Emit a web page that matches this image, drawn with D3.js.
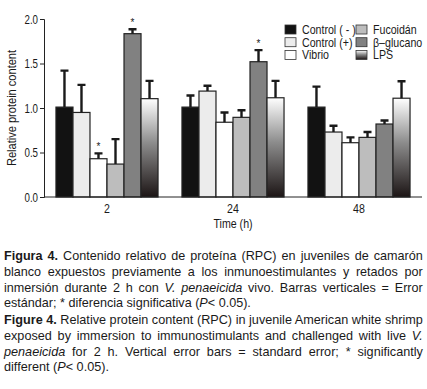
<!DOCTYPE html>
<html>
<head>
<meta charset="utf-8">
<script src="https://cdn.jsdelivr.net/npm/d3@7"></script>
<style>
  body { margin: 0; background: #fff; }
  svg { display: block; }
  text { font-family: "Liberation Sans", Arial, sans-serif; fill: #1a1a1a; }
</style>
</head>
<body>
<div class="canvas"></div>
<script>
// 데이터
const times = ["2", "24", "48"];
const treatments = ["Control (-)", "Control (+)", "Vibrio", "Fucoidán", "β–glucano", "LPS"];

const controlNeg = [1.01, 1.01, 1.01];
const controlPos = [0.95, 1.19, 0.73];
const vibrio     = [0.43, 0.84, 0.61];
const fucoidan   = [0.37, 0.895, 0.67];
const glucan     = [1.835, 1.52, 0.82];
const lps        = [1.105, 1.115, 1.11];

const controlNegErr = [0.41, 0.13, 0.23];
const controlPosErr = [0.31, 0.06, 0.07];
const vibrioErr     = [0.06, 0.11, 0.06];
const fucoidanErr   = [0.28, 0.08, 0.06];
const glucanErr     = [0.05, 0.13, 0.04];
const lpsErr        = [0.2, 0.19, 0.19];

// significant differences: [time, treatment]
const significant = [["2", "Vibrio"], ["2", "β–glucano"], ["24", "β–glucano"]];

const yTicks = [0, 0.5, 1.0, 1.5, 2.0];

const captionEs = [
  [["b", "Figura 4."], ["n", " Contenido relativo de proteína (RPC) en juveniles de camarón"]],
  [["n", "blanco expuestos previamente a los inmunoestimulantes y retados por"]],
  [["n", "inmersión durante 2 h con "], ["i", "V. penaeicida"], ["n", " vivo. Barras verticales = Error"]],
  [["n", "estándar; * diferencia significativa ("], ["i", "P"], ["n", "< 0.05)."]]
];
const captionEn = [
  [["b", "Figure 4."], ["n", " Relative protein content (RPC) in juvenile American white shrimp"]],
  [["n", "exposed by immersion to immunostimulants and challenged with live "], ["i", "V."]],
  [["i", "penaeicida"], ["n", " for 2 h. Vertical error bars = standard error; * significantly"]],
  [["n", "different ("], ["i", "P"], ["n", "< 0.05)."]]
];

const means = [controlNeg, controlPos, vibrio, fucoidan, glucan, lps];
const errs = [controlNegErr, controlPosErr, vibrioErr, fucoidanErr, glucanErr, lpsErr];

const rows = [];
times.forEach((t, ti) => {
  treatments.forEach((tr, k) => {
    rows.push({ time: t, treatment: tr, value: means[k][ti], err: errs[k][ti] });
  });
});

const svgWidth = 427, svgHeight = 389;
const svg = d3.select(".canvas").append("svg")
  .attr("width", svgWidth)
  .attr("height", svgHeight);

// LPS 그라데이션
const defs = svg.append("defs");
const grad = defs.append("linearGradient")
  .attr("id", "lpsGrad")
  .attr("x1", 0).attr("y1", 0).attr("x2", 0).attr("y2", 1);
grad.append("stop").attr("offset", "0%").attr("stop-color", "#ffffff");
grad.append("stop").attr("offset", "45%").attr("stop-color", "#8c8c8c");
grad.append("stop").attr("offset", "100%").attr("stop-color", "#1c1515");

const fills = {
  "Control (-)": "#121212",
  "Control (+)": "#ececec",
  "Vibrio": "#ffffff",
  "Fucoidán": "#bdbdbd",
  "β–glucano": "#818181",
  "LPS": "url(#lpsGrad)"
};

const x0 = d3.scaleBand()
  .domain(times)
  .range([44, 422])
  .paddingInner(0.19)
  .paddingOuter(0.095);

const x1 = d3.scaleBand()
  .domain(treatments)
  .range([0, x0.bandwidth()]);

const y = d3.scaleLinear()
  .domain([0, 2])
  .range([197, 19]);

// 막대
const groups = svg.selectAll(".grp")
  .data(times)
  .join("g")
  .attr("class", "grp")
  .attr("transform", d => `translate(${x0(d)},0)`);

groups.selectAll("rect")
  .data(t => rows.filter(r => r.time === t))
  .join("rect")
  .attr("x", d => x1(d.treatment))
  .attr("y", d => y(d.value))
  .attr("width", x1.bandwidth())
  .attr("height", d => y(0) - y(d.value))
  .attr("fill", d => fills[d.treatment])
  .attr("stroke", "#222")
  .attr("stroke-width", 1.2);

// 오차 막대 (위쪽만)
groups.selectAll(".err")
  .data(t => rows.filter(r => r.time === t))
  .join("path")
  .attr("class", "err")
  .attr("fill", "none")
  .attr("stroke", "#1a1a1a")
  .attr("stroke-width", 2.4)
  .attr("d", d => {
    const cx = x1(d.treatment) + x1.bandwidth() / 2;
    const y0 = y(d.value), yt = y(d.value + d.err);
    return `M${cx},${y0}V${yt}M${cx - 4},${yt}H${cx + 4}`;
  });

// 별표
groups.selectAll(".star")
  .data(t => rows.filter(r => r.time === t && significant.some(s => s[0] === t && s[1] === r.treatment)))
  .join("text")
  .attr("class", "star")
  .attr("x", d => x1(d.treatment) + x1.bandwidth() / 2)
  .attr("y", d => y(d.value + d.err) - 3)
  .attr("text-anchor", "middle")
  .attr("font-size", 10)
  .text("*");

// 축
const yAxis = d3.axisLeft(y).tickValues(yTicks).tickFormat(d3.format(".1f")).tickSizeOuter(0).tickSize(4);
const gy = svg.append("g").attr("transform", "translate(44,0)").call(yAxis);
gy.select(".domain").attr("stroke", "#222");
gy.selectAll(".tick line").attr("stroke", "#222");
gy.selectAll(".tick text")
  .attr("font-size", 12.5)
  .attr("fill", "#1a1a1a")
  .style("font-family", "'Liberation Sans', Arial, sans-serif")
  .attr("transform", "scale(0.78,1)")
  .attr("x", -6 / 0.78);

const xAxis = d3.axisBottom(x0).tickSize(0).tickSizeOuter(0).tickPadding(7);
const gx = svg.append("g").attr("transform", "translate(0,197)").call(xAxis);
gx.select(".domain").attr("stroke", "#222").attr("d", "M44,0H422");
gx.selectAll(".tick text")
  .attr("font-size", 12.5)
  .attr("fill", "#1a1a1a")
  .style("font-family", "'Liberation Sans', Arial, sans-serif");
gx.selectAll(".tick").each(function (d) {
  const px = x0(d) + x0.bandwidth() / 2;
  d3.select(this).attr("transform", `translate(${px},0) scale(0.85,1)`);
});

// 축 제목
svg.append("text")
  .attr("transform", "translate(233,228) scale(0.85,1)")
  .attr("text-anchor", "middle")
  .attr("font-size", 12.5)
  .text("Time (h)");

svg.append("text")
  .attr("transform", "translate(16,108) rotate(-90) scale(0.82,1)")
  .attr("text-anchor", "middle")
  .attr("font-size", 13.5)
  .text("Relative protein content");

// 범례
const legendCols = [[0, 1, 2], [3, 4, 5]];
const legendX = [285, 356];
const legendY = 25, legendStep = 12.7;
legendCols.forEach((col, ci) => {
  col.forEach((k, ri) => {
    const tr = treatments[k];
    const g = svg.append("g").attr("transform", `translate(${legendX[ci]},${legendY + ri * legendStep})`);
    g.append("rect")
      .attr("width", 11).attr("height", 9)
      .attr("fill", fills[tr])
      .attr("stroke", "#333").attr("stroke-width", 0.8);
    g.append("text")
      .attr("transform", "translate(17,9) scale(0.85,1)")
      .attr("font-size", 12.5)
      .text(tr === "Control (-)" ? "Control ( - )" : tr);
  });
});

// 캡션: 마지막 줄 폭으로 글자 압축 비율을 정하고, 나머지 줄은 양쪽 정렬
function makeLine(parts) {
  const t = svg.append("text")
    .attr("font-size", 13)
    .attr("fill", "#1a1a1a")
    .attr("xml:space", "preserve");
  parts.forEach(p => {
    t.append("tspan")
      .attr("font-weight", p[0] === "b" ? "bold" : null)
      .attr("font-style", p[0] === "i" ? "italic" : null)
      .text(p[1]);
  });
  return t;
}

function paragraph(lines, ys, fullW, lastW) {
  const last = lines.length - 1;
  const lastText = makeLine(lines[last]);
  const s = lastW / lastText.node().getComputedTextLength();
  lastText.attr("transform", `translate(4,${ys[last]}) scale(${s},1)`);
  lines.slice(0, last).forEach((l, i) => {
    const t = makeLine(l);
    const w = t.node().getComputedTextLength();
    const nSpaces = l.map(p => p[1]).join("").split(" ").length - 1;
    const ws = (fullW / s - w) / nSpaces;
    t.attr("word-spacing", ws);
    const w2 = t.node().getComputedTextLength();
    t.attr("transform", `translate(4,${ys[i]}) scale(${fullW / w2},1)`);
  });
}

paragraph(captionEs, [260, 276, 291.7, 307], 419, 247);
paragraph(captionEn, [324, 340, 355.7, 371], 419, 105);
</script>
</body>
</html>
